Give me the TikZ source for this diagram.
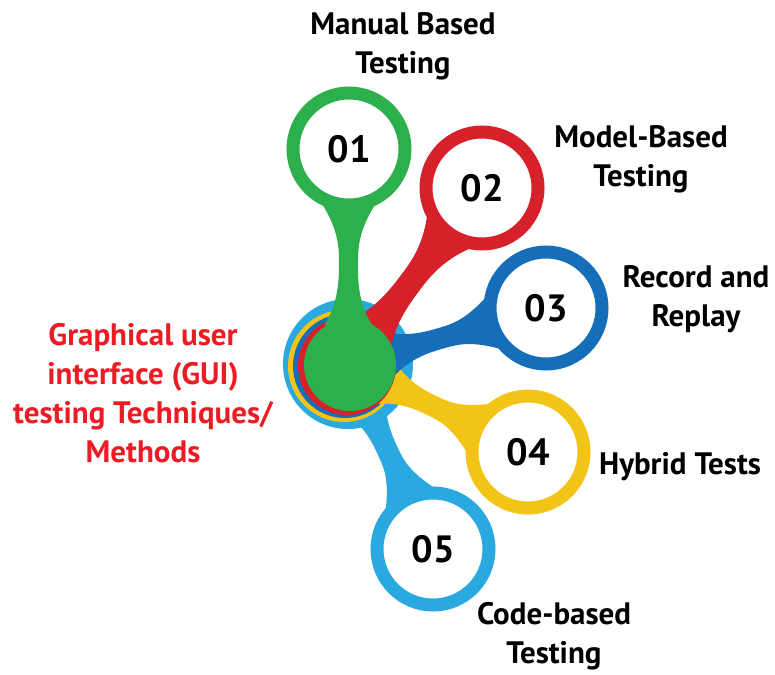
\documentclass[tikz,border=0pt]{standalone}
\usepackage{fontspec}
\setmainfont{PT Sans}
\usetikzlibrary{calc}
\definecolor{cgreen}{RGB}{44,176,75}
\definecolor{cred}{RGB}{214,32,42}
\definecolor{cblue}{RGB}{22,110,184}
\definecolor{cyellow}{RGB}{241,196,22}
\definecolor{clight}{RGB}{41,169,224}
\definecolor{ctitle}{RGB}{237,28,36}
\tikzset{ring/.style={
    circle,
    draw=#1,
    line width=13pt,
    fill=white,
    minimum size=112pt,
    inner sep=0pt,
    font=\fontsize{38}{38}\selectfont\bfseries
  },
  lbl/.style={align=center,font=\fontsize{31}{39}\selectfont\bfseries},
  titlelbl/.style={lbl,text=ctitle},
}
% tapered stem from the hub to a satellite: colour, satellite, half width
\newcommand\stem[3]{
  \fill[#1] ($(hub)!40pt!(#2)!24pt!90:(#2)$)
    .. controls ($(hub)!62pt!(#2)!#3!90:(#2)$) and ($(hub)!0.4!(#2)!#3!90:(#2)$)
    .. ($(hub)!0.47!(#2)!#3!90:(#2)$)
    .. controls ($(hub)!0.54!(#2)!#3!90:(#2)$) and ($(#2)!80pt!(hub)!#3!-90:(hub)$)
    .. ($(#2)!50pt!(hub)!30pt!-90:(hub)$)
    -- ($(#2)!50pt!(hub)!30pt!90:(hub)$)
    .. controls ($(#2)!80pt!(hub)!#3!90:(hub)$) and ($(hub)!0.54!(#2)!#3!-90:(#2)$)
    .. ($(hub)!0.47!(#2)!#3!-90:(#2)$)
    .. controls ($(hub)!0.4!(#2)!#3!-90:(#2)$) and ($(hub)!62pt!(#2)!#3!-90:(#2)$)
    .. ($(hub)!40pt!(#2)!24pt!-90:(#2)$) -- cycle;
}
\begin{document}
\begin{tikzpicture}[x=1pt,y=-1pt]
  \useasboundingbox (0,0) rectangle (775,674);
  \coordinate (hub) at (348,365);
  \coordinate (p1) at (349,149);
  \coordinate (p2) at (482,188);
  \coordinate (p3) at (546,308);
  \coordinate (p4) at (528,452);
  \coordinate (p5) at (433,549);

  % hub rings and stems
  \fill[clight] (348,364) circle (65pt);
  \stem{clight}{p5}{10.5pt}
  \fill[cyellow] (344,366) circle (56pt);
  \fill[cblue] (345,366) circle (52pt);
  \stem{cyellow}{p4}{10.5pt}
  \stem{cblue}{p3}{10.5pt}
  \stem{cred}{p2}{12pt}
  \fill[cred] (347,366) circle (49pt);
  \stem{cgreen}{p1}{9.5pt}
  \fill[cgreen] (350,365) circle (46pt);

  % numbered circles
  \node[ring=cgreen] (n1) at (p1) {01};
  \node[ring=cred] (n2) at (p2) {02};
  \node[ring=cblue] (n3) at (p3) {03};
  \node[ring=cyellow] (n4) at (p4) {04};
  \node[ring=clight] (n5) at (p5) {05};

  % labels
  \node[lbl] (l1) at (403,46) {Manual Based\\Testing};
  \node[lbl] (l2) at (641,159) {Model-Based\\Testing};
  \node[lbl] (l3) at (696,299) {Record and\\Replay};
  \node[lbl] (l4) at (680,467) {Hybrid Tests};
  \node[lbl] (l5) at (554,636) {Code-based\\Testing};
  \node[titlelbl] (gui) at (143,393) {Graphical user\\interface (GUI)\\testing Techniques/\\Methods};
\end{tikzpicture}
\end{document}
